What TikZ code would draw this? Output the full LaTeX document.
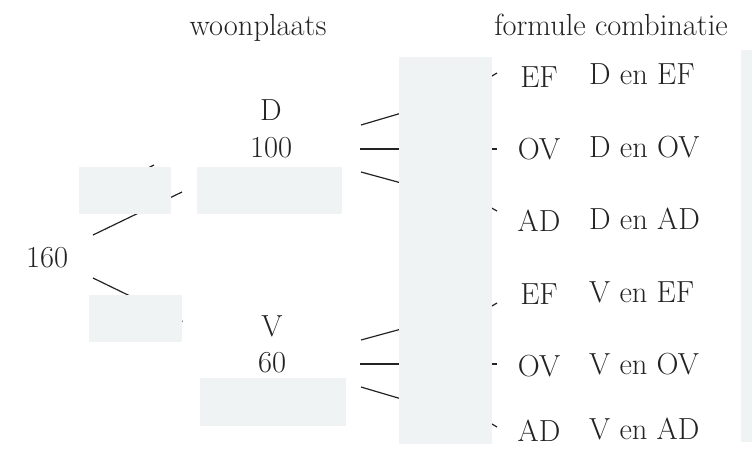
\documentclass[tikz,border=0pt]{standalone}
\usepackage{fontspec}
\definecolor{maskgray}{RGB}{240,243,244}
\definecolor{inkgray}{RGB}{35,35,35}
\begin{document}
\begin{tikzpicture}[x=1pt,y=-1pt,
  lbl/.style={font=\fontsize{30.5}{32}\selectfont, text=inkgray, inner sep=0pt, anchor=base},
  lblw/.style={lbl, anchor=base west},
  edge/.style={draw=inkgray, line width=1.2pt},
  mask/.style={fill=maskgray, draw=none}]
\useasboundingbox (0,0) rectangle (752,448);

% connector end points
\coordinate (r1) at (93,235);   \coordinate (r1e) at (182,192);
\coordinate (r2) at (140,172);  \coordinate (r2e) at (154,165);
\coordinate (r3) at (93,278);   \coordinate (r3e) at (182.5,321.5);
\coordinate (da) at (361,125);  \coordinate (dae) at (405,112);
\coordinate (db) at (360,149);  \coordinate (dbe) at (405,149);
\coordinate (dc) at (361,172);  \coordinate (dce) at (405,184);
\coordinate (va) at (361,340);  \coordinate (vae) at (405,328);
\coordinate (vb) at (360,364);  \coordinate (vbe) at (405,364);
\coordinate (vc) at (361,387);  \coordinate (vce) at (405,400);
\coordinate (t1) at (470,89);   \coordinate (t1e) at (497,73);
\coordinate (t2) at (470,149);  \coordinate (t2e) at (497,149);
\coordinate (t3) at (470,196);  \coordinate (t3e) at (497,211);
\coordinate (t4) at (470,319);  \coordinate (t4e) at (497,303);
\coordinate (t5) at (470,364);  \coordinate (t5e) at (497,364);
\coordinate (t6) at (470,411);  \coordinate (t6e) at (497,427);

\foreach \a/\b in {r1/r1e,r2/r2e,r3/r3e,da/dae,db/dbe,dc/dce,va/vae,vb/vbe,vc/vce,
                   t1/t1e,t2/t2e,t3/t3e,t4/t4e,t5/t5e,t6/t6e}
  \draw[edge] (\a) -- (\b);

% masking boxes
\fill[mask] (79,167) rectangle (171,214);
\fill[mask] (197,167) rectangle (342,214);
\fill[mask] (89,295) rectangle (182,342);
\fill[mask] (200,378) rectangle (346,426);
\fill[mask] (399,57) rectangle (492,444);
\fill[mask] (741,50) rectangle (752,442);

% texts
\node[lbl] (hw) at (258,35) {woonplaats};
\node[lbl] (hf) at (611,35) {formule combinatie};
\node[lbl] (root) at (47,267) {160};
\node[lbl] (dn) at (271,120) {D};
\node[lbl] (dv) at (271,157) {100};
\node[lbl] (vn) at (272,336) {V};
\node[lbl] (vv) at (272,372) {60};

\node[lbl] (f1) at (539,87) {EF};
\node[lbl] (f2) at (539,159) {OV};
\node[lbl] (f3) at (539,231) {AD};
\node[lbl] (f4) at (539,304) {EF};
\node[lbl] (f5) at (539,376) {OV};
\node[lbl] (f6) at (539,441) {AD};

\node[lblw] (c1) at (589,84) {D en EF};
\node[lblw] (c2) at (589,157) {D en OV};
\node[lblw] (c3) at (589,229) {D en AD};
\node[lblw] (c4) at (589,302) {V en EF};
\node[lblw] (c5) at (589,374) {V en OV};
\node[lblw] (c6) at (589,439) {V en AD};
\end{tikzpicture}
\end{document}
